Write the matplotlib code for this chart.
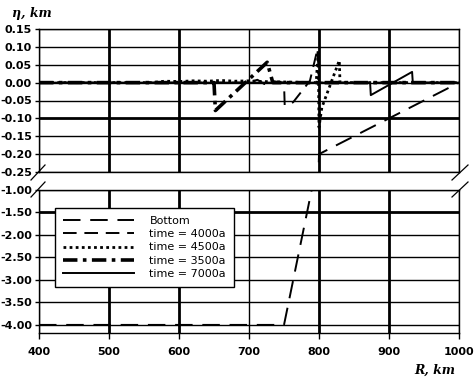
import numpy as np
import matplotlib
matplotlib.use("Agg")
import matplotlib.pyplot as plt
from matplotlib.lines import Line2D

# ---- data ----
bottom_x = [400, 750, 800, 1000]
bottom_y = [-4.0, -4.0, -0.2, 0.0]

t4000_x = [400, 700, 712, 722, 730, 740, 750, 751, 763, 787, 798, 800, 1000]
t4000_y = [0.0, 0.0, 0.008, -0.004, 0.006, 0.002, 0.0, -0.063, -0.055, 0.005, 0.095, 0.0, 0.0]

t4500_x = [400, 560, 580, 600, 620, 640, 660, 680, 700, 720, 796, 799, 800, 804, 829, 830, 1000]
t4500_y = [0.0, 0.0, 0.004, 0.003, 0.005, 0.004, 0.006, 0.004, 0.005, 0.003, 0.0, 0.09, -0.125, -0.07, 0.062, 0.0, 0.0]

t3500_x = [400, 650, 652, 726, 734, 1000]
t3500_y = [0.0, 0.0, -0.078, 0.057, 0.0, 0.0]

t7000_x = [400, 873, 874, 933, 934, 1000]
t7000_y = [0.0, 0.0, -0.035, 0.03, 0.0, 0.0]

x_ticks = [400, 500, 600, 700, 800, 900, 1000]
upper_ticks = [0.15, 0.10, 0.05, 0.00, -0.05, -0.10, -0.15, -0.20, -0.25]
lower_ticks = [-1.0, -1.5, -2.0, -2.5, -3.0, -3.5, -4.0]
labels = ["Bottom", "time = 4000a", "time = 4500a", "time = 3500a", "time = 7000a"]

W, H = 477, 379
fig = plt.figure(figsize=(W / 100, H / 100), dpi=100)

def frac(px_l, px_t, px_r, px_b):
    return [px_l / W, 1 - px_b / H, (px_r - px_l) / W, (px_b - px_t) / H]

ax_u = fig.add_axes(frac(39, 29, 459, 172))
ax_l = fig.add_axes(frac(39, 190, 459, 333))

tick_font = dict(family="DejaVu Sans", weight="bold", size=8)

def draw_series(ax):
    ax.plot(bottom_x, bottom_y, color="black", lw=1.4, dashes=(9, 5), zorder=3)
    ax.plot(t4000_x, t4000_y, color="black", lw=1.4, dashes=(7, 4), zorder=3)
    ax.plot(t4500_x, t4500_y, color="black", lw=2.0, dashes=(1, 1.2), zorder=3)
    ax.plot(t3500_x, t3500_y, color="black", lw=2.6, dashes=(4, 1.5, 1, 1.5), zorder=3)
    ax.plot(t7000_x, t7000_y, color="black", lw=1.4, zorder=3)

for ax in (ax_u, ax_l):
    ax.set_xlim(400, 1000)
    for s in ax.spines.values():
        s.set_linewidth(1.0)
    for xv in x_ticks:
        lw = 2.0 if xv in (500, 600, 800, 900) else 1.0
        ax.axvline(xv, color="black", lw=lw, zorder=1)
    draw_series(ax)

ax_u.set_ylim(-0.25, 0.15)
ax_u.set_yticks(upper_ticks)
ax_u.set_yticklabels(["%.2f" % v for v in upper_ticks], fontdict=tick_font)
for yv in upper_ticks:
    ax_u.axhline(yv, color="black", lw=2.0 if abs(yv + 0.10) < 1e-9 else 1.0, zorder=1)
ax_u.set_xticks([])
ax_u.tick_params(axis="y", length=3, width=1, pad=2)

ax_l.set_ylim(-4.18, -1.0)
ax_l.set_yticks(lower_ticks)
ax_l.set_yticklabels(["%.2f" % v for v in lower_ticks], fontdict=tick_font)
for yv in lower_ticks:
    ax_l.axhline(yv, color="black", lw=2.0 if abs(yv + 1.5) < 1e-9 else 1.0, zorder=1)
ax_l.set_xticks(x_ticks)
ax_l.set_xticklabels([str(v) for v in x_ticks], fontdict=tick_font)
ax_l.tick_params(axis="y", length=3, width=1, pad=2)
ax_l.tick_params(axis="x", length=4, width=1, pad=6)

handles = [
    Line2D([], [], color="black", lw=1.4, dashes=(9, 5)),
    Line2D([], [], color="black", lw=1.4, dashes=(7, 4)),
    Line2D([], [], color="black", lw=2.0, dashes=(1, 1.2)),
    Line2D([], [], color="black", lw=2.6, dashes=(4, 1.5, 1, 1.5)),
    Line2D([], [], color="black", lw=1.4),
]
leg = ax_l.legend(handles, labels, loc="upper left", bbox_to_anchor=(0.038, 0.874),
                  borderaxespad=0, fancybox=False, framealpha=1, edgecolor="black",
                  prop=dict(family="DejaVu Sans", size=8), handlelength=6.4,
                  handletextpad=1.4, labelspacing=0.3, borderpad=0.7)
leg.get_frame().set_linewidth(1.0)
leg.set_zorder(5)

# break marks
def pxline(x0, y0, x1, y1):
    fig.add_artist(Line2D([x0 / W, x1 / W], [1 - y0 / H, 1 - y1 / H],
                          color="black", lw=0.9, transform=fig.transFigure))
pxline(31, 180, 45, 165)
pxline(31, 197, 45, 182)
pxline(452, 180, 468, 165)
pxline(452, 197, 468, 182)

fig.text(32 / W, 1 - 14 / H, "η, km", ha="center", va="center",
         fontdict=dict(family="DejaVu Serif", style="italic", weight="bold", size=9))
fig.text(435 / W, 1 - 370 / H, "R, km", ha="center", va="center",
         fontdict=dict(family="DejaVu Serif", style="italic", weight="bold", size=9))

fig.savefig("out.png", dpi=100)
